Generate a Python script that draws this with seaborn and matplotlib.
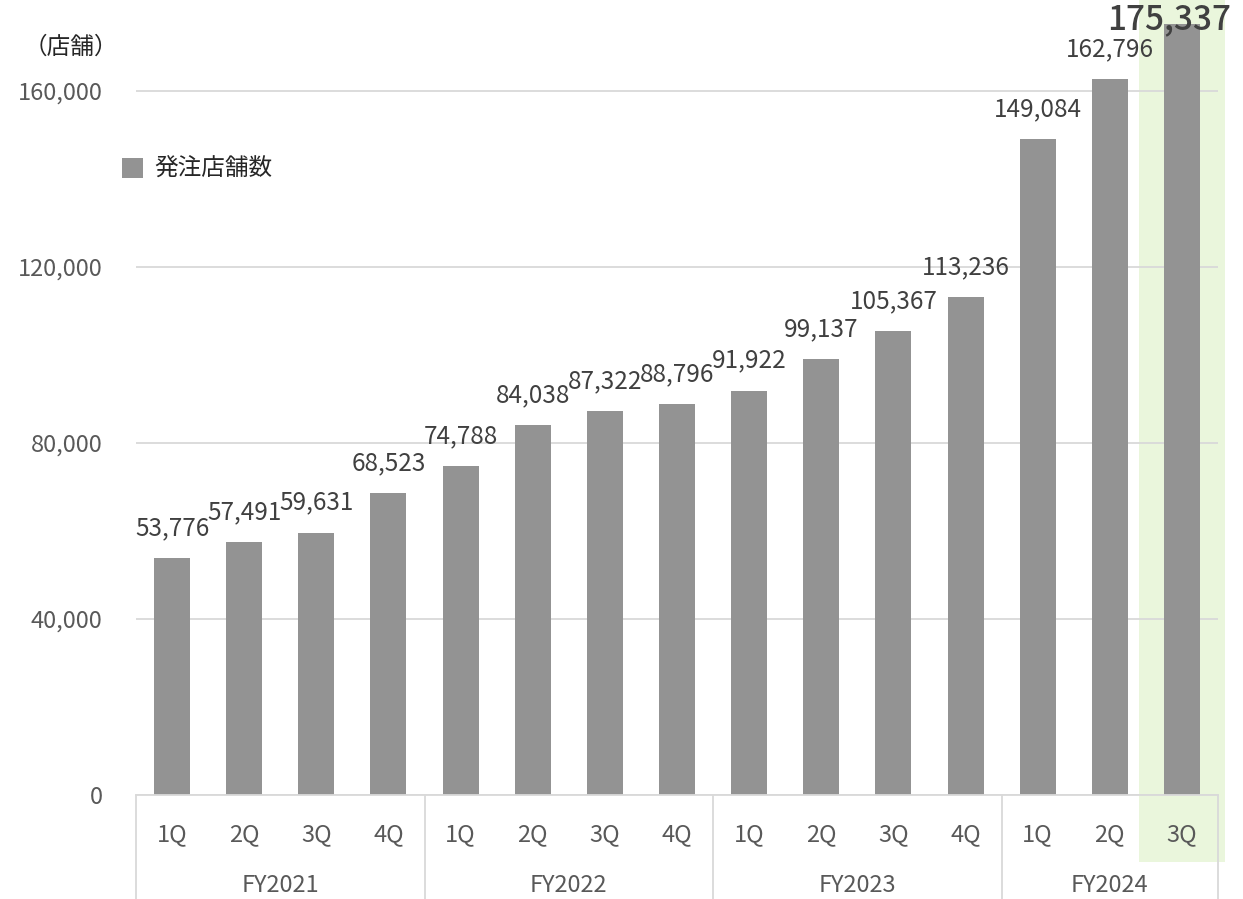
import pandas as pd
import matplotlib.pyplot as plt
import matplotlib.transforms as mtransforms
from matplotlib.patches import Rectangle
import seaborn as sns

# data
years = ['FY2021', 'FY2022', 'FY2023', 'FY2024']
quarters_per_year = [4, 4, 4, 3]
quarters = ['1Q', '2Q', '3Q', '4Q', '1Q', '2Q', '3Q', '4Q',
            '1Q', '2Q', '3Q', '4Q', '1Q', '2Q', '3Q']
stores = [53776, 57491, 59631, 68523, 74788, 84038, 87322, 88796,
          91922, 99137, 105367, 113236, 149084, 162796, 175337]
series_name = '発注店舗数'

df = pd.DataFrame({
    'pos': range(len(stores)),
    'stores': stores,
    'series': series_name,
})

sns.set_style('white')
plt.rcParams['font.family'] = ['Noto Sans CJK JP', 'DejaVu Sans']

BAR = '#939393'
GRID = '#d9d9d9'
TXT = '#595959'
LBL = '#404040'

fig = plt.figure(figsize=(12.43, 8.99), dpi=100)
ax = fig.add_axes([136 / 1243, 1 - 795 / 899, (1218 - 136) / 1243, (795 - 3) / 899])
ax.patch.set_visible(False)

sns.barplot(data=df, x='pos', y='stores', hue='series', palette={series_name: BAR},
            width=0.5, ax=ax, zorder=2, linewidth=0, edgecolor='none')

ax.set_xlim(-0.5, len(stores) - 0.5)
ax.set_ylim(0, 180000)
ax.set_yticks([0, 40000, 80000, 120000, 160000])
ax.yaxis.set_major_formatter(plt.FuncFormatter(lambda v, p: f'{int(v):,}'))
ax.set_axisbelow(True)
ax.grid(axis='y', color=GRID, linewidth=1.3)
ax.grid(axis='x', visible=False)
for s in ['top', 'right', 'left']:
    ax.spines[s].set_visible(False)
ax.spines['bottom'].set_color(GRID)
ax.spines['bottom'].set_linewidth(1.3)

ax.set_xticks(range(len(quarters)))
ax.set_xticklabels(quarters)
ax.tick_params(axis='x', length=0, pad=20, labelsize=17, labelcolor=TXT)
ax.tick_params(axis='y', length=0, pad=24, labelsize=17, labelcolor=TXT)
ax.set_xlabel('')
ax.set_ylabel('')

# highlight latest quarter
last = len(stores) - 1
trans = mtransforms.blended_transform_factory(ax.transData, fig.transFigure)
ax.add_patch(Rectangle((last - 0.6, 1 - 862 / 899), 1.2, 862 / 899, transform=trans,
                       facecolor='#eaf6dc', edgecolor='none', clip_on=False, zorder=0.1))

# year groups and separators
trans_ax = mtransforms.blended_transform_factory(ax.transData, ax.transAxes)
start = -0.5
bottom = -(899 - 795) / (795 - 3)
ax.plot([start, start], [0, bottom], transform=trans_ax, color=GRID, lw=1.3, clip_on=False)
for yr, n in zip(years, quarters_per_year):
    end = start + n
    ax.plot([end, end], [0, bottom], transform=trans_ax, color=GRID, lw=1.3, clip_on=False)
    ax.text((start + end) / 2, 1 - 885 / 899, yr, transform=trans, ha='center', va='center',
            fontsize=17, color=TXT)
    start = end

# value labels
for i, v in enumerate(stores):
    if i == last:
        ax.annotate(f'{v:,}', (i, v), xytext=(-9, 3), textcoords='offset points',
                    ha='center', va='center', fontsize=24, fontweight='medium', color=LBL,
                    annotation_clip=False)
    else:
        ax.annotate(f'{v:,}', (i, v), xytext=(0, 21.5), textcoords='offset points',
                    ha='center', va='center', fontsize=17.5, color=LBL)

sns.move_legend(ax, 'upper left', bbox_to_anchor=(122 / 1243, 1 - 158 / 899),
                bbox_transform=fig.transFigure, frameon=False, title=None, fontsize=17,
                handlelength=0.9, handleheight=0.9, handletextpad=0.45,
                borderpad=0, borderaxespad=0)

fig.text(24 / 1243, 1 - 47 / 899, '（店舗）', ha='left', va='center', fontsize=17, color='#262626')

fig.savefig('out.png', dpi=100)
